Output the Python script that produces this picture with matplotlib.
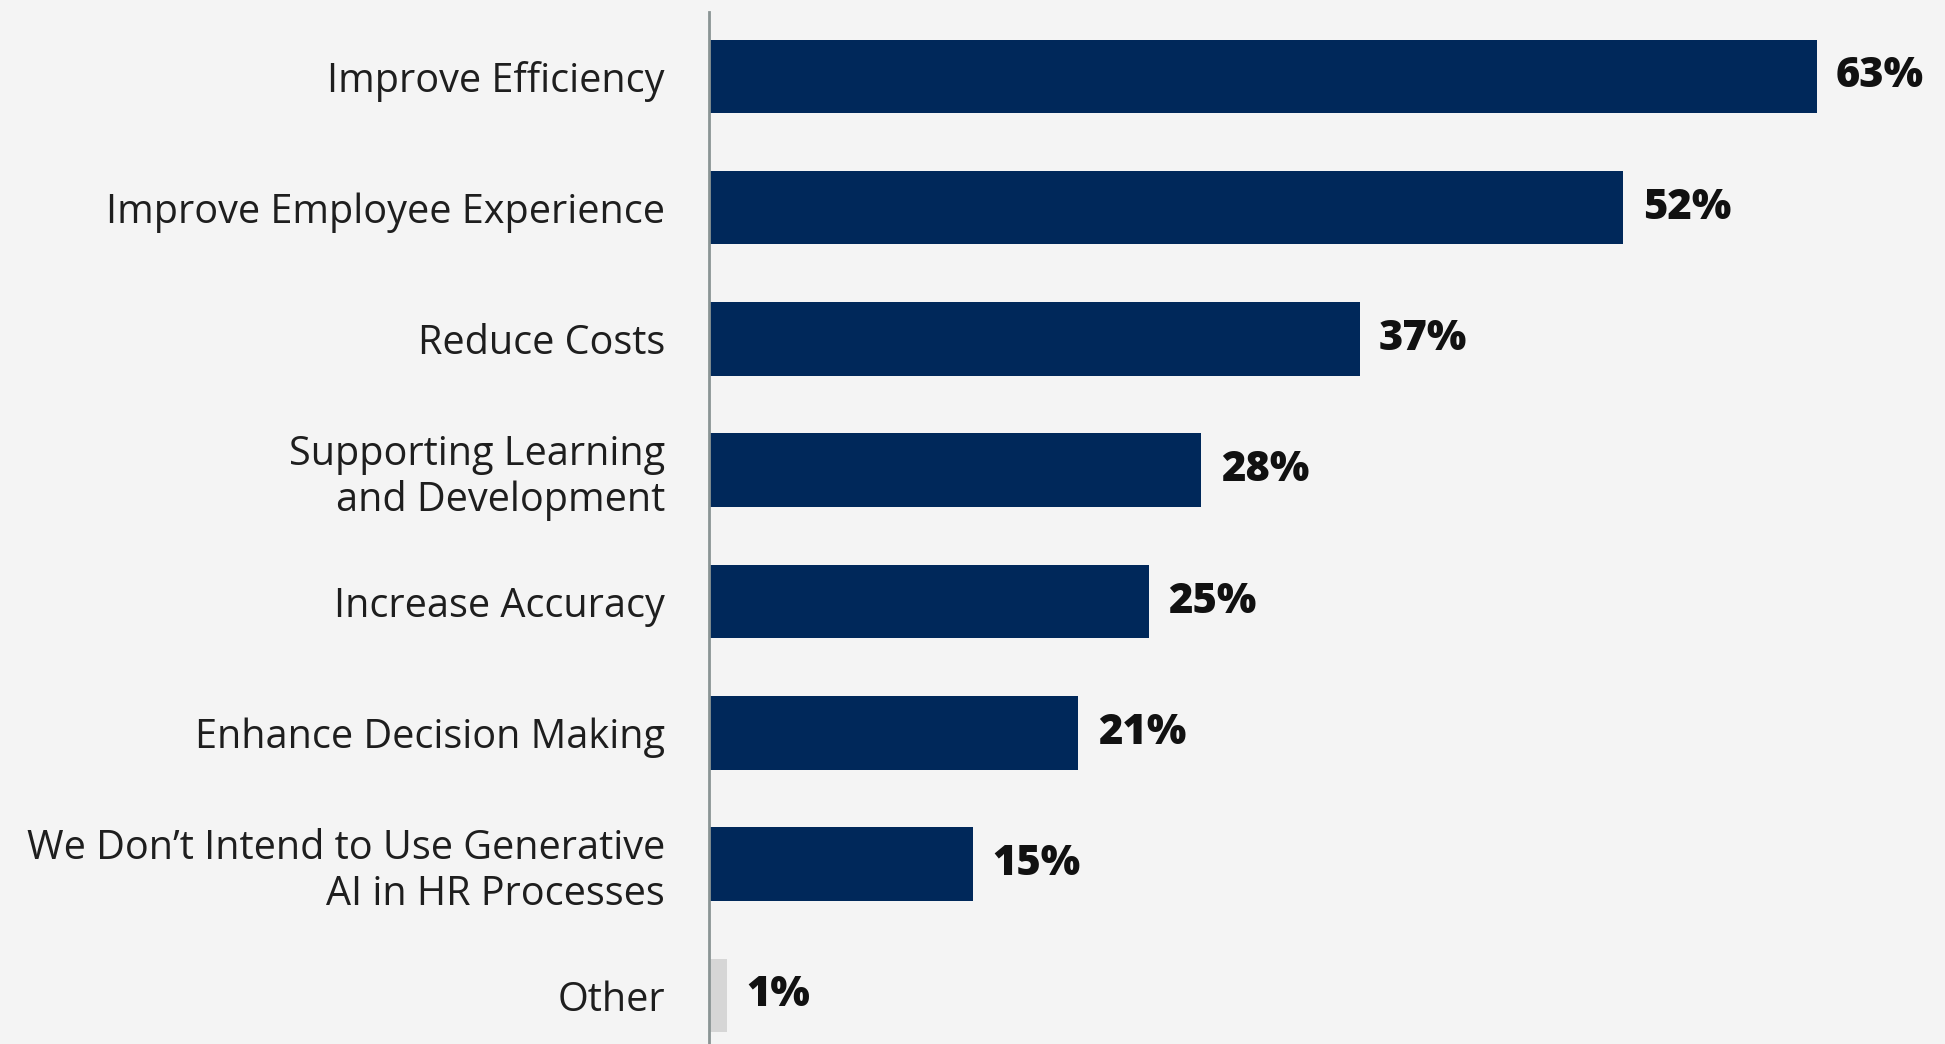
import matplotlib.pyplot as plt

# data
labels = ["Improve Efficiency", "Improve Employee Experience", "Reduce Costs",
          "Supporting Learning\nand Development", "Increase Accuracy",
          "Enhance Decision Making", "We Don\u2019t Intend to Use Generative\nAI in HR Processes",
          "Other"]
values = [63, 52, 37, 28, 25, 21, 15, 1]
bar_colors = ["#00285a"] * 7 + ["#d6d6d6"]

bg = "#f4f4f4"
plt.rcParams['font.family'] = ['Open Sans', 'DejaVu Sans']

fig = plt.figure(figsize=(19.45, 10.44), dpi=100, facecolor=bg)
ax = fig.add_axes([0.3647, 0.0, 0.6353, 0.9885], facecolor=bg)

ypos = list(range(len(labels)))
ax.barh(ypos, values, height=0.56, color=bar_colors)

for y, v in zip(ypos, values):
    ax.text(v + 1.1, y, f"{v}%", va="center", ha="left",
            fontsize=30, fontweight="heavy", color="#111111")

ax.set_yticks(ypos)
ax.set_yticklabels(labels, fontsize=28.5, color="#1e1e1e", linespacing=1.17)
ax.tick_params(axis="y", length=0, pad=32)
ax.set_xticks([])
ax.set_xlim(0, 70.3)
ax.set_ylim(7.37, -0.49)

for s in ["top", "right", "bottom"]:
    ax.spines[s].set_visible(False)
ax.spines["left"].set_color("#8a9494")
ax.spines["left"].set_linewidth(2)

fig.savefig("out.png", dpi=100, facecolor=bg)
